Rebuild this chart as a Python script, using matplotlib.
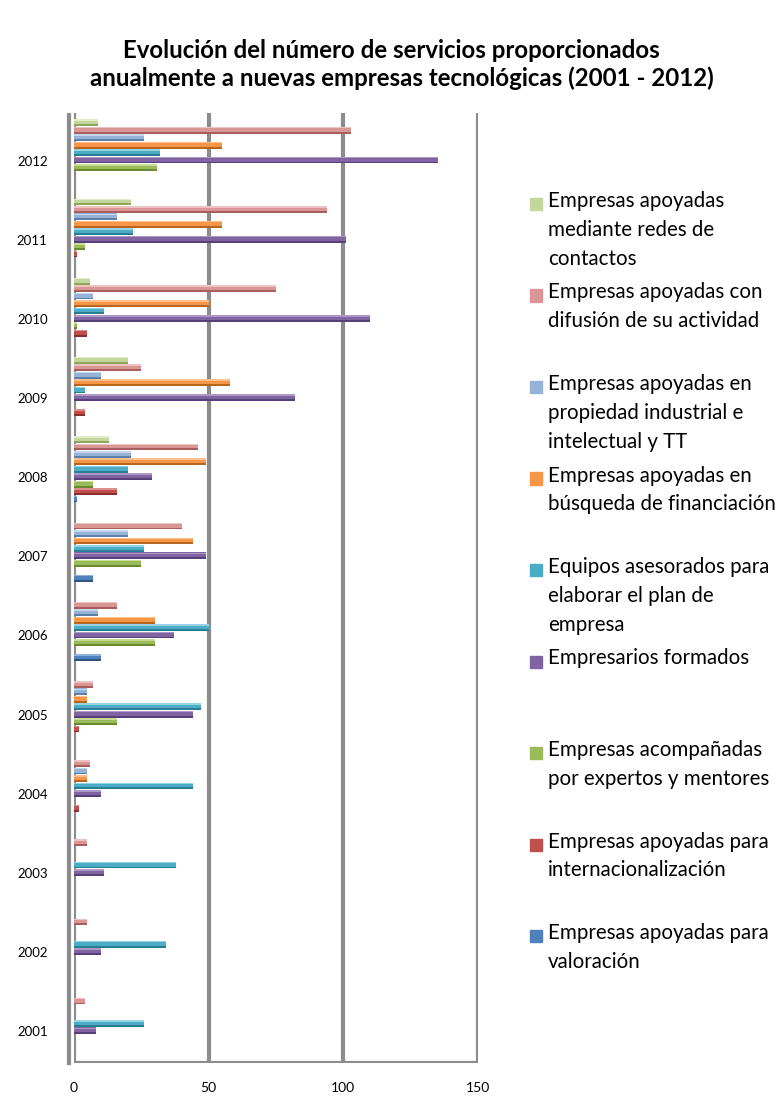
import matplotlib.pyplot as plt
import numpy as np

plt.rcParams['font.family'] = ['Lato', 'DejaVu Sans']

# años (de abajo hacia arriba)
years = ['2001', '2002', '2003', '2004', '2005', '2006',
         '2007', '2008', '2009', '2010', '2011', '2012']

# valores por serie, 2001..2012
valoracion = [0, 0, 0, 0, 0, 10, 7, 1, 0, 0, 0, 0]
internacionalizacion = [0, 0, 0, 2, 2, 0, 0, 16, 4, 5, 1, 0]
expertos = [0, 0, 0, 0, 16, 30, 25, 7, 0, 1, 4, 31]
formados = [8, 10, 11, 10, 44, 37, 49, 29, 82, 110, 101, 135]
equipos = [26, 34, 38, 44, 47, 50, 26, 20, 4, 11, 22, 32]
financiacion = [0, 0, 0, 5, 5, 30, 44, 49, 58, 50, 55, 55]
propiedad = [0, 0, 0, 5, 5, 9, 20, 21, 10, 7, 16, 26]
difusion = [4, 5, 5, 6, 7, 16, 40, 46, 25, 75, 94, 103]
redes = [0, 0, 0, 0, 0, 0, 0, 13, 20, 6, 21, 9]

series = [valoracion, internacionalizacion, expertos, formados, equipos,
          financiacion, propiedad, difusion, redes]

labels = ['Empresas apoyadas para\nvaloración',
          'Empresas apoyadas para\ninternacionalización',
          'Empresas acompañadas\npor expertos y mentores',
          'Empresarios formados',
          'Equipos asesorados para\nelaborar el plan de\nempresa',
          'Empresas apoyadas en\nbúsqueda de financiación',
          'Empresas apoyadas en\npropiedad industrial e\nintelectual y TT',
          'Empresas apoyadas con\ndifusión de su actividad',
          'Empresas apoyadas\nmediante redes de\ncontactos']

colors = ['#4F81BD', '#C0504D', '#9BBB59', '#8064A2', '#4BACC6',
          '#F79646', '#95B3D7', '#D99694', '#C3D69B']
dark = ['#2F5584', '#8A2F2D', '#6A8A32', '#55407A', '#2B7D94',
        '#B8661F', '#5F7FAA', '#A85E5C', '#8EA65E']
light = ['#8FB0DA', '#DE8E8C', '#C6DC97', '#AD98C8', '#93D3E4',
         '#FBC08E', '#C6D7EC', '#EDC3C2', '#E0EDC6']

W, H = 781, 1097
fig = plt.figure(figsize=(W / 100, H / 100), dpi=100)

# area del grafico en pixeles
left, right, top, bottom = 74, 478, 113, 1063
ax = fig.add_axes([left / W, 1 - bottom / H, (right - left) / W, (bottom - top) / H])

y = np.arange(len(years))
slot = 0.094
h = 0.086
for k, vals in enumerate(series):
    pos = y + (k - 4) * slot
    ax.barh(pos, vals, height=h, color=colors[k], zorder=3)
    # sombra abajo y brillo arriba (efecto cilindro)
    ax.barh(pos - h * 0.36, vals, height=h * 0.28, color=dark[k], zorder=4)
    ax.barh(pos + h * 0.38, vals, height=h * 0.22, color=light[k], zorder=4)

# lineas de la cuadricula (pared 3D)
for xv in [0, 50, 100, 150]:
    ax.axvline(xv, color='#8C8C8C', lw=3, zorder=2)
ax.plot([-1.8, -1.8], [-0.5, 11.47], color='#8C8C8C', lw=3, clip_on=False, zorder=2)
ax.axhline(-0.5, color='#8C8C8C', lw=3, zorder=2)

ax.set_xlim(0, 150)
ax.set_ylim(-0.5, 11.5)
ax.set_xticks([0, 50, 100, 150])
ax.set_yticks(y - 0.1)
ax.set_yticklabels(years)
ax.tick_params(axis='both', length=0, labelsize=10, colors='#000000')
ax.tick_params(axis='y', pad=19, labelsize=9.5)
ax.tick_params(axis='x', pad=14)
for s in ax.spines.values():
    s.set_visible(False)

fig.text(391 / W, 1 - 50 / H, 'Evolución del número de servicios proporcionados',
         ha='center', va='center', fontsize=17.3, fontweight='bold')
fig.text(402 / W, 1 - 78 / H, 'anualmente a nuevas empresas tecnológicas (2001 - 2012)',
         ha='center', va='center', fontsize=17.3, fontweight='bold')

# leyenda a mano, de arriba hacia abajo
ly0 = 204
step = 91.5
for i, k in enumerate(range(8, -1, -1)):
    yy = ly0 + i * step
    fig.patches.append(plt.Rectangle((530 / W, 1 - (yy + 6) / H), 12 / W, 12 / H,
                                     transform=fig.transFigure, color=colors[k]))
    fig.text(548 / W, 1 - (yy - 13) / H, labels[k], ha='left', va='top',
             fontsize=14.8, linespacing=1.55)

plt.savefig('out.png', dpi=100)
